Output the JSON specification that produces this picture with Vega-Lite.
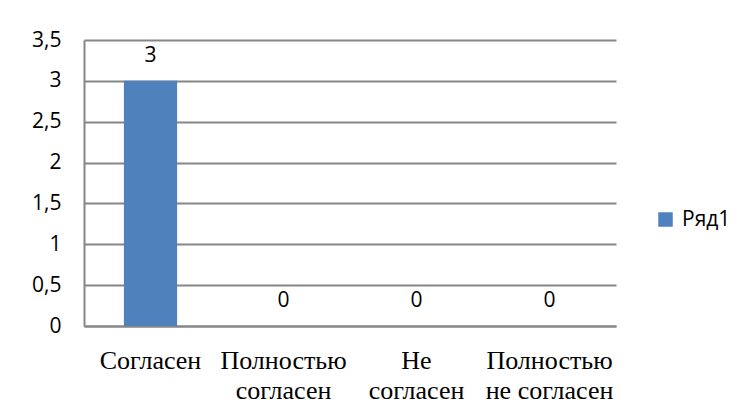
{
  "$schema": "https://vega.github.io/schema/vega-lite/v6.json",
  "width": 532,
  "height": 286,
  "autosize": {"type": "none"},
  "padding": {"left": 84, "top": 40, "right": 138, "bottom": 90},
  "background": "white",
  "data": {
    "values": [
      {"category": "Согласен", "value": 3, "series": "Ряд1"},
      {"category": "Полностью согласен", "value": 0, "series": "Ряд1"},
      {"category": "Не согласен", "value": 0, "series": "Ряд1"},
      {"category": "Полностью не согласен", "value": 0, "series": "Ряд1"}
    ]
  },
  "encoding": {
    "x": {
      "field": "category",
      "type": "nominal",
      "sort": null,
      "scale": {"paddingInner": 0.6, "paddingOuter": 0.3},
      "axis": {
        "title": null,
        "labelAngle": 0,
        "labelFont": "Liberation Serif",
        "labelFontSize": 26,
        "labelColor": "#000000",
        "labelLineHeight": 30,
        "labelBaseline": "top",
        "labelPadding": 21,
        "labelLimit": 0,
        "ticks": false,
        "tickSize": 0,
        "grid": false,
        "domainColor": "#868686",
        "domainWidth": 2,
        "labelExpr": "indexof(datum.label, ' ') > 0 ? [substring(datum.label, 0, indexof(datum.label, ' ')), substring(datum.label, indexof(datum.label, ' ') + 1)] : datum.label"
      }
    },
    "y": {
      "field": "value",
      "type": "quantitative",
      "scale": {"domain": [0, 3.5], "nice": false},
      "axis": {
        "title": null,
        "values": [0, 0.5, 1, 1.5, 2, 2.5, 3, 3.5],
        "labelExpr": "replace(format(datum.value, '.1~f'), '.', ',')",
        "labelFont": "Open Sans",
        "labelFontSize": 21,
        "labelColor": "#000000",
        "labelPadding": 23,
        "ticks": false,
        "tickSize": 0,
        "grid": true,
        "gridColor": "#868686",
        "gridWidth": 2,
        "domainColor": "#868686",
        "domainWidth": 2
      }
    }
  },
  "layer": [
    {
      "mark": {"type": "bar", "color": "#4F81BD"},
      "encoding": {
        "color": {
          "field": "series",
          "type": "nominal",
          "scale": {"range": ["#4F81BD"]},
          "legend": {
            "title": null,
            "orient": "none",
            "legendX": 571,
            "legendY": 169,
            "padding": 0,
            "symbolType": "square",
            "symbolSize": 210,
            "symbolStrokeWidth": 0,
            "labelFont": "Open Sans",
            "labelFontSize": 21,
            "labelColor": "#000000",
            "labelOffset": 6
          }
        }
      }
    },
    {
      "mark": {"type": "text", "dy": -19, "baseline": "alphabetic", "font": "Open Sans", "fontSize": 21, "color": "#000000"},
      "encoding": {
        "text": {"field": "value", "type": "quantitative"}
      }
    }
  ],
  "config": {"view": {"stroke": null}}
}
